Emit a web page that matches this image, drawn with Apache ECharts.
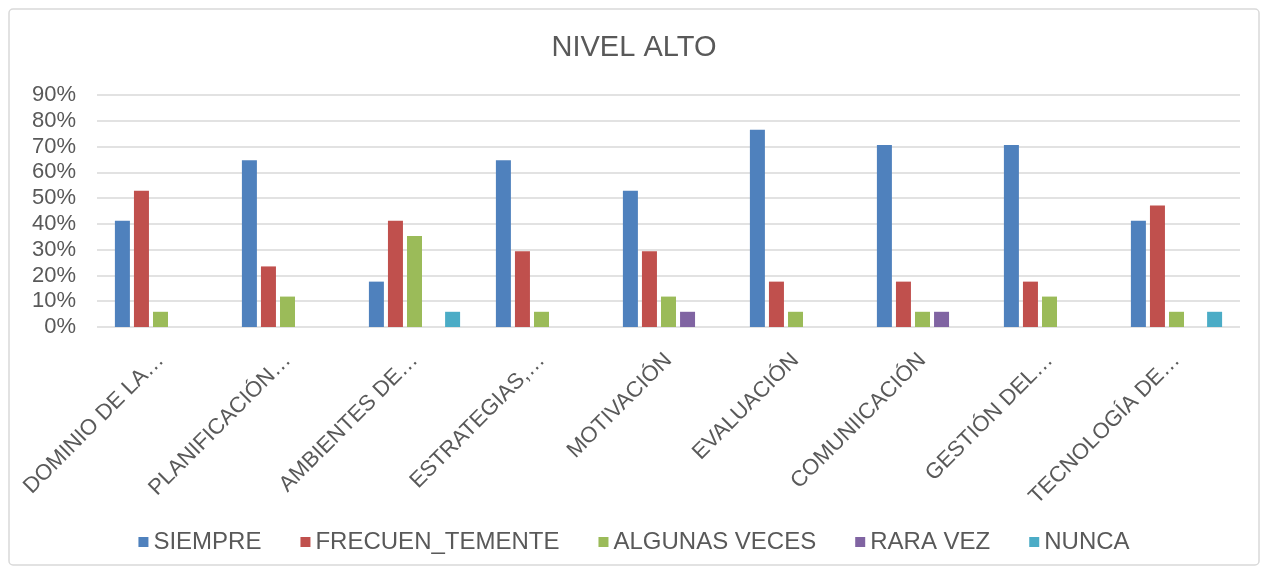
<!DOCTYPE html>
<html><head><meta charset="utf-8">
<script src="https://cdn.jsdelivr.net/npm/echarts@6/dist/echarts.min.js"></script>
<style>html,body{margin:0;padding:0;background:#fff}#c{width:1268px;height:572px}</style>
</head><body><div id="c"></div>
<script>
var categories = ['DOMINIO DE LA…','PLANIFICACIÓN…','AMBIENTES DE…','ESTRATEGIAS,…','MOTIVACIÓN','EVALUACIÓN','COMUNIICACIÓN','GESTIÓN DEL…','TECNOLOGÍA DE…'];
var seriesNames = ['SIEMPRE','FRECUEN_TEMENTE','ALGUNAS VECES','RARA VEZ','NUNCA'];
var siempre = [41.2, 64.7, 17.6, 64.7, 52.9, 76.5, 70.6, 70.6, 41.2];
var frecuentemente = [52.9, 23.5, 41.2, 29.4, 29.4, 17.6, 17.6, 17.6, 47.1];
var algunasVeces = [5.9, 11.8, 35.3, 5.9, 11.8, 5.9, 5.9, 11.8, 5.9];
var raraVez = [0, 0, 0, 0, 5.9, 0, 5.9, 0, 0];
var nunca = [0, 0, 5.9, 0, 0, 0, 0, 0, 5.9];
var colors = ['#4F81BD','#C0504D','#9BBB59','#8064A2','#4BACC6'];
var allData = [siempre, frecuentemente, algunasVeces, raraVez, nunca];

var font = 'Liberation Sans, Arial, sans-serif';
var chart = echarts.init(document.getElementById('c'));
chart.setOption({
  animation: false,
  color: colors,
  graphic: [{type:'rect', shape:{x:9, y:9, width:1250, height:556, r:4}, style:{fill:'none', stroke:'#d9d9d9', lineWidth:1.5}}],
  title: {text:'NIVEL ALTO', left:'center', top:28, textStyle:{fontFamily:font, fontSize:29, fontWeight:'normal', color:'#595959'}},
  legend: {top:525, left:'center', itemWidth:10, itemHeight:10, itemGap:39, icon:'rect',
    textStyle:{fontFamily:font, fontSize:24, color:'#595959'}, data: seriesNames},
  grid: {left:97, right:28, top:95, bottom:245, containLabel:false},
  xAxis: {type:'category', data:categories,
    axisLine:{show:false}, axisTick:{show:false},
    axisLabel:{rotate:45, interval:0, margin:30, fontFamily:font, fontSize:22, color:'#595959'}},
  yAxis: {type:'value', min:0, max:90, interval:10,
    axisLabel:{formatter:'{value}%', fontFamily:font, fontSize:22, color:'#595959', margin:21},
    splitLine:{lineStyle:{color:'#d9d9d9', width:1.5}}, axisLine:{show:false}, axisTick:{show:false}},
  series: seriesNames.map(function(n,i){
    return {name:n, type:'bar', data:allData[i], barWidth:15, barGap:'27%',
      itemStyle:{color:colors[i]}};
  })
});
</script></body></html>
